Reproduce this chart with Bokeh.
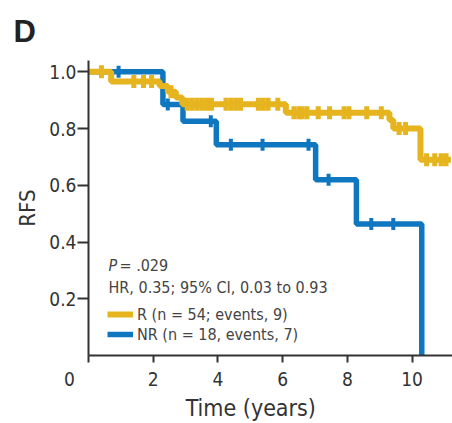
import numpy as np
from bokeh.plotting import figure
from bokeh.models import Range1d, FixedTicker, Label, Legend, LegendItem
from bokeh.embed import file_html
from bokeh.resources import INLINE

# ---- data ----
r_times = [0.0, 0.7, 2.2, 2.45, 2.7, 2.9, 6.1, 9.3, 9.42, 10.26, 11.2]
r_surv = [1.0, 0.966, 0.95, 0.93, 0.91, 0.886, 0.856, 0.83, 0.80, 0.69, 0.69]
r_censor = [0.4, 1.4, 1.7, 1.95, 2.55, 3.05, 3.2, 3.35, 3.5, 3.65, 3.8, 4.25, 4.4,
            4.55, 4.7, 5.25, 5.4, 5.55, 5.85, 6.35, 6.5, 6.6, 6.75, 7.1, 7.45, 7.9,
            8.05, 8.6, 9.05, 9.6, 9.8, 10.45, 10.7, 10.9, 11.05]

nr_times = [0.0, 2.3, 2.92, 3.95, 7.02, 8.28, 10.3]
nr_surv = [1.0, 0.885, 0.826, 0.743, 0.62, 0.464, 0.0]
nr_censor = [0.93, 2.45, 3.78, 4.4, 5.38, 6.8, 7.42, 8.74, 9.42]

x_ticks = [0, 2, 4, 6, 8, 10]
x_tick_labels = ["0", "2", "4", "6", "8", "10"]
y_ticks = [0.2, 0.4, 0.6, 0.8, 1.0]
y_tick_labels = ["0.2", "0.4", "0.6", "0.8", "1.0"]

r_label = "R (n = 54; events, 9)"
nr_label = "NR (n = 18, events, 7)"
p_text = "= .029"
hr_text = "HR, 0.35; 95% CI, 0.03 to 0.93"
x_title = "Time (years)"
y_title = "RFS"
panel_title = "D"

GOLD = "#e6b41e"
BLUE = "#0f77c0"
TXT = "#333333"
FONT = "DejaVu Sans Condensed, Roboto"
NB = "\u00a0"


def surv_at(times, surv, t):
    idx = np.searchsorted(np.asarray(times), np.asarray(t), side="right") - 1
    return np.asarray(surv)[idx]


p = figure(width=452, height=423, output_backend="svg", toolbar_location=None,
           x_range=Range1d(0, 11.25), y_range=Range1d(0, 1.04),
           min_border_left=88, min_border_right=0, min_border_top=57,
           min_border_bottom=67, title=panel_title)
p.outline_line_color = None
p.xgrid.visible = False
p.ygrid.visible = False
p.background_fill_color = "white"

p.title.text_font = "Liberation Sans"
p.title.text_font_style = "bold"
p.title.text_font_size = "31px"
p.title.text_color = "#222222"
p.title.align = "left"
p.title.offset = -75
p.title.standoff = 23

nr_line = p.step(nr_times, nr_surv, mode="after", line_color=BLUE, line_width=5.5)
p.scatter(nr_censor, surv_at(nr_times, nr_surv, nr_censor), marker="dash",
          angle=np.pi / 2, size=12, line_color=BLUE, line_width=4)
r_line = p.step(r_times, r_surv, mode="after", line_color=GOLD, line_width=6)
p.scatter(r_censor, surv_at(r_times, r_surv, r_censor), marker="dash",
          angle=np.pi / 2, size=13, line_color=GOLD, line_width=5)

for ax in (p.xaxis[0], p.yaxis[0]):
    ax.axis_line_width = 2
    ax.axis_line_color = TXT
    ax.major_tick_line_color = TXT
    ax.major_tick_line_width = 2
    ax.minor_tick_line_color = None
    ax.major_tick_in = 0
    ax.major_label_text_font = FONT
    ax.major_label_text_font_size = "19px"
    ax.major_label_text_color = TXT
    ax.axis_label_text_font = FONT
    ax.axis_label_text_font_style = "normal"
    ax.axis_label_text_color = TXT

labels_x = dict(zip(x_ticks, x_tick_labels))
labels_x[0] = labels_x[0] + NB * 7   # the "0" sits left of the corner
p.xaxis.ticker = FixedTicker(ticks=x_ticks)
p.xaxis.major_label_overrides = labels_x
p.xaxis.major_tick_out = 7
p.xaxis.major_label_standoff = 5
p.xaxis.axis_label = x_title + NB * 6
p.xaxis.axis_label_text_font_size = "23px"
p.xaxis.axis_label_standoff = 2

p.yaxis.ticker = FixedTicker(ticks=y_ticks)
p.yaxis.major_label_overrides = dict(zip(y_ticks, y_tick_labels))
p.yaxis.major_tick_out = 11
p.yaxis.major_label_standoff = 1
p.yaxis.axis_label = y_title
p.yaxis.axis_label_text_font_size = "22px"
p.yaxis.axis_label_standoff = 6

# texts inside the frame (screen units relative to the frame)
p.add_layout(Label(x=20, y=90, x_units="screen", y_units="screen", text="P",
                   text_font=FONT, text_font_style="italic", text_font_size="16px",
                   text_color="#444444", text_baseline="middle", text_align="left"))
p.add_layout(Label(x=31, y=90, x_units="screen", y_units="screen", text=p_text,
                   text_font=FONT, text_font_size="16px", text_color="#444444",
                   text_baseline="middle", text_align="left"))
p.add_layout(Label(x=20, y=68, x_units="screen", y_units="screen", text=hr_text,
                   text_font=FONT, text_font_size="16px", text_color="#444444",
                   text_baseline="middle", text_align="left"))

legend = Legend(items=[LegendItem(label=r_label, renderers=[r_line]),
                       LegendItem(label=nr_label, renderers=[nr_line])],
                location=(19, 11), padding=0, margin=0, spacing=0,
                glyph_width=26, glyph_height=20, label_height=20,
                label_standoff=4, background_fill_alpha=0, border_line_alpha=0,
                label_text_font=FONT, label_text_font_size="16px",
                label_text_color="#444444")
p.add_layout(legend)

open("out.html", "w").write(file_html(p, INLINE))
